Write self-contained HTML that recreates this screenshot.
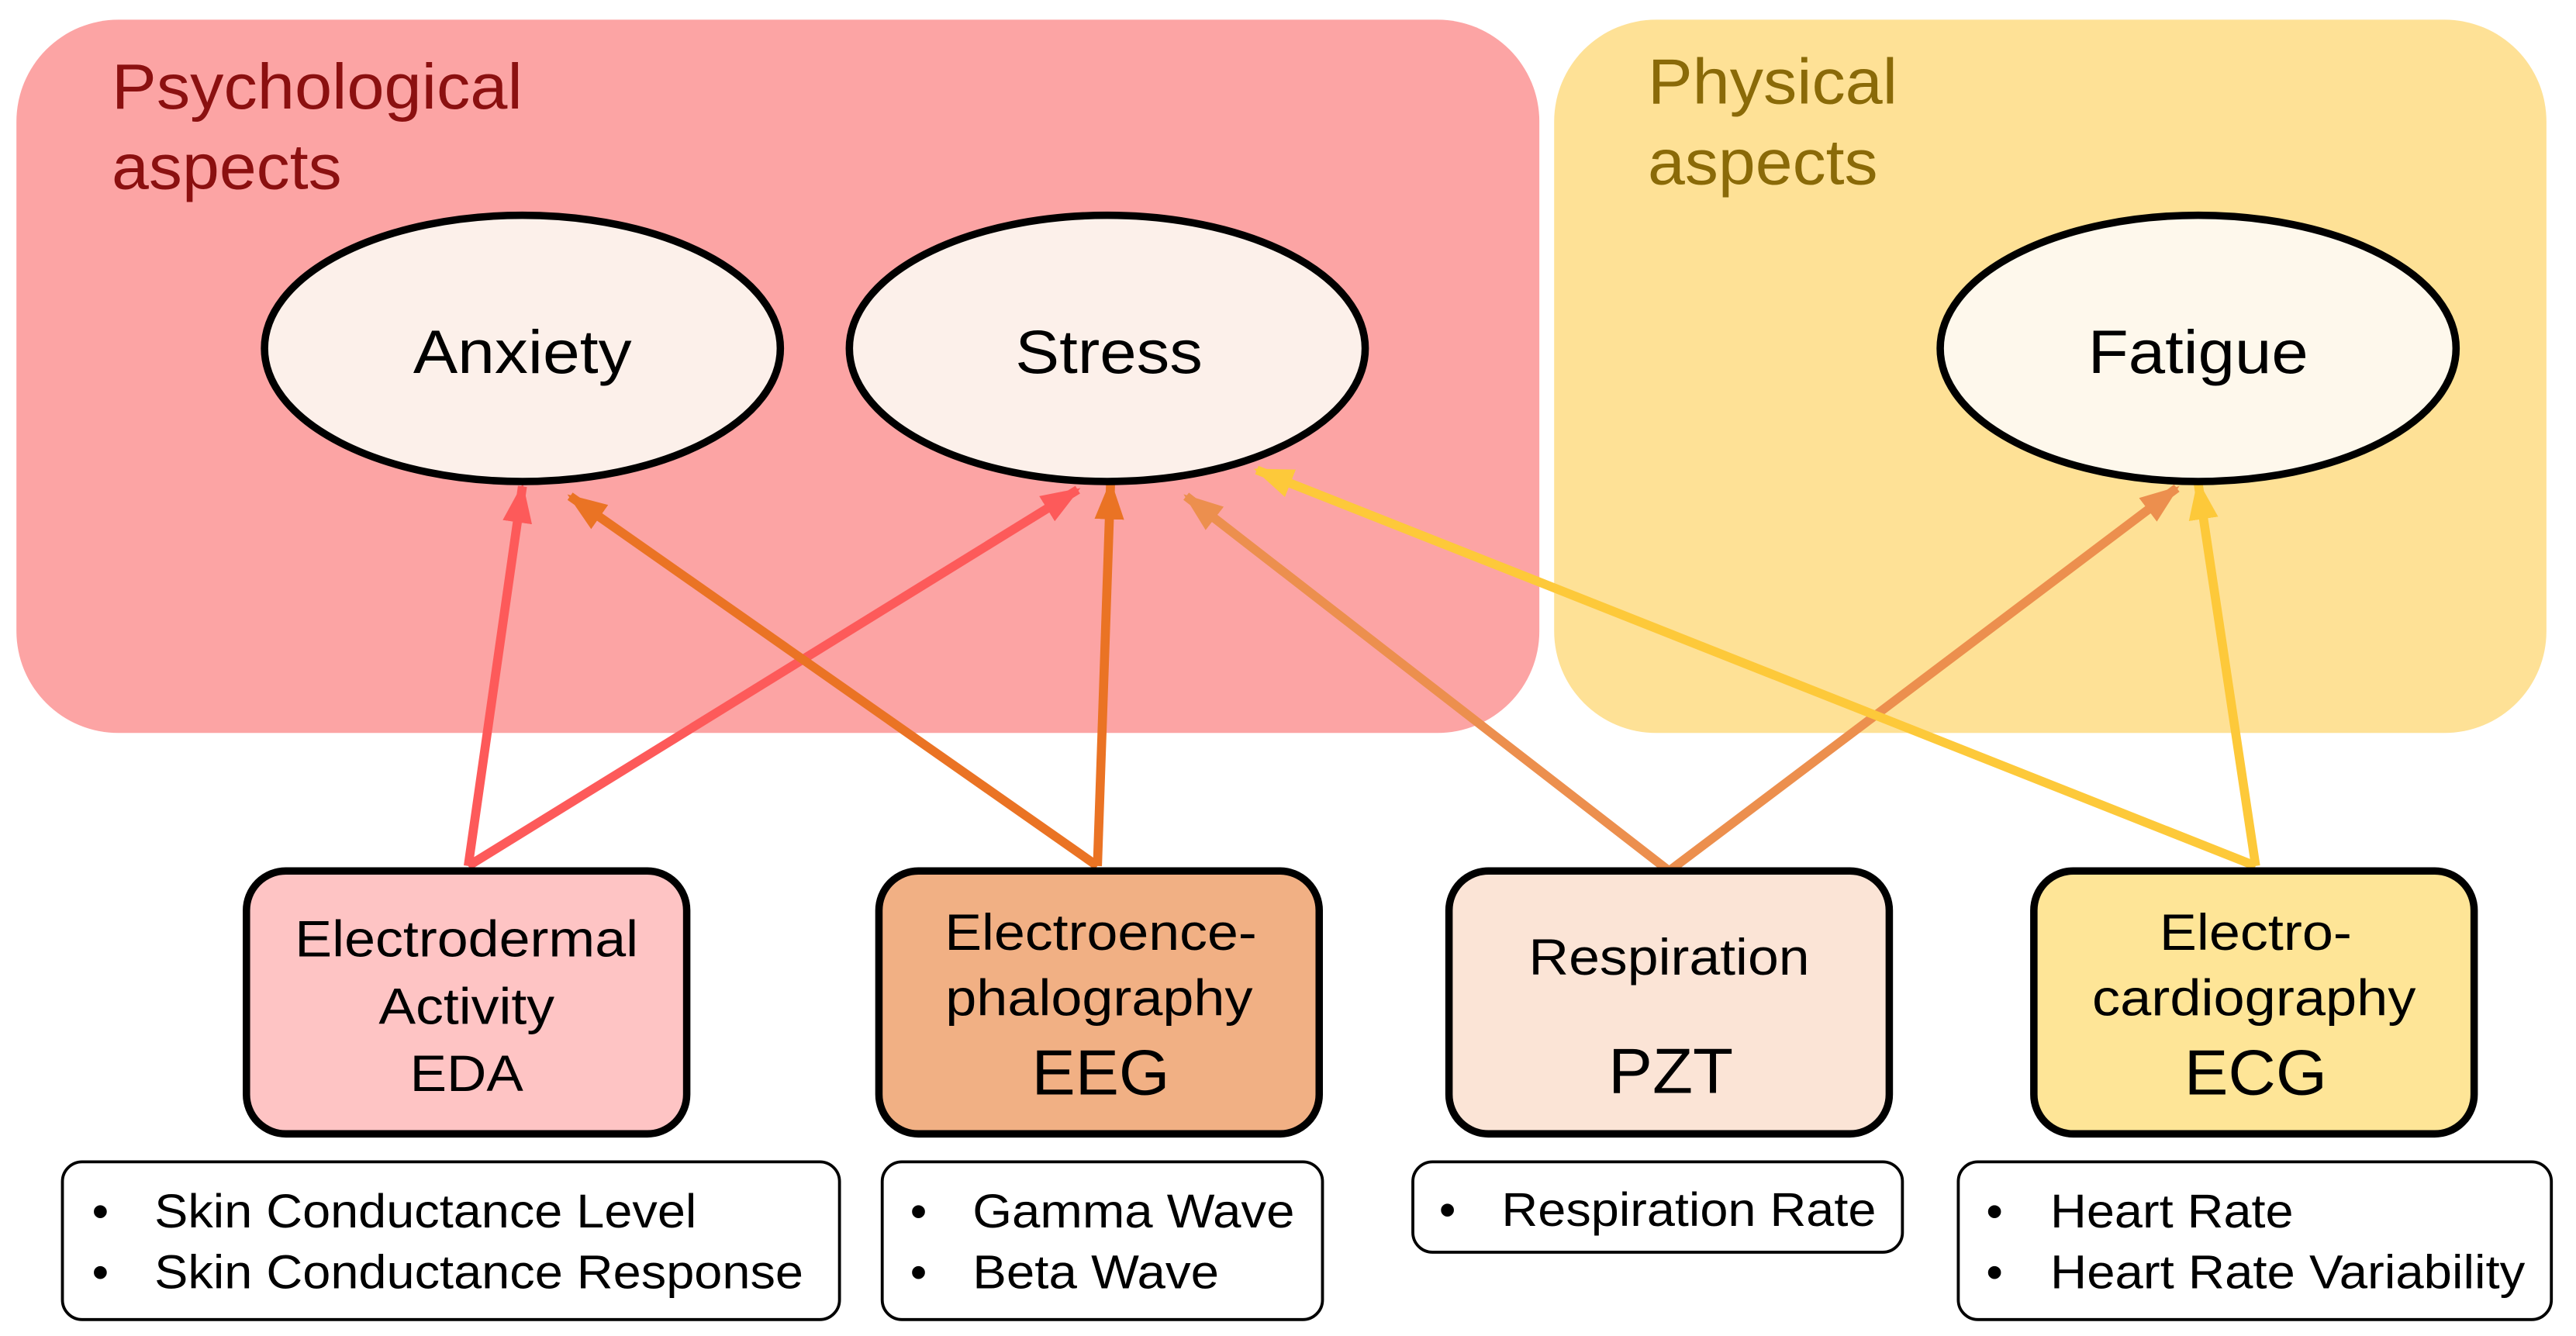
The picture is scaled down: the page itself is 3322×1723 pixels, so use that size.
<!DOCTYPE html>
<html><head><meta charset="utf-8"><style>
html,body{margin:0;padding:0;background:#fff;}
svg{display:block;}
text{font-family:"Liberation Sans",Arial,sans-serif;}
</style></head><body>
<svg width="3322" height="1723" viewBox="0 0 1568 813" preserveAspectRatio="none" xmlns="http://www.w3.org/2000/svg">
<defs>
<marker id="mr" markerUnits="userSpaceOnUse" markerWidth="24" markerHeight="18" refX="22" refY="9" orient="auto"><path d="M0,0 L24,9 L0,18 z" fill="#fd5a5a"/></marker>
<marker id="mo" markerUnits="userSpaceOnUse" markerWidth="24" markerHeight="18" refX="22" refY="9" orient="auto"><path d="M0,0 L24,9 L0,18 z" fill="#ea7324"/></marker>
<marker id="mp" markerUnits="userSpaceOnUse" markerWidth="24" markerHeight="18" refX="22" refY="9" orient="auto"><path d="M0,0 L24,9 L0,18 z" fill="#ec8f4e"/></marker>
<marker id="my" markerUnits="userSpaceOnUse" markerWidth="24" markerHeight="18" refX="22" refY="9" orient="auto"><path d="M0,0 L24,9 L0,18 z" fill="#fdc93a"/></marker>
</defs>
<rect x="10" y="12" width="927" height="434" rx="62" fill="#fca4a4"/>
<rect x="946" y="12" width="604" height="434" rx="62" fill="#fee196"/>
<g font-size="39" lengthAdjust="spacingAndGlyphs">
<text x="68" y="66" fill="#8b1010" textLength="250" lengthAdjust="spacingAndGlyphs">Psychological</text>
<text x="68" y="115" fill="#8b1010" textLength="140" lengthAdjust="spacingAndGlyphs">aspects</text>
<text x="1003" y="63" fill="#8a6a08" textLength="152" lengthAdjust="spacingAndGlyphs">Physical</text>
<text x="1003" y="112" fill="#8a6a08" textLength="140" lengthAdjust="spacingAndGlyphs">aspects</text>
</g>

<g stroke-width="5.5" fill="none">
<line x1="285" y1="527" x2="318" y2="296" stroke="#fd5a5a" marker-end="url(#mr)"/>
<line x1="285" y1="527" x2="656" y2="298" stroke="#fd5a5a" marker-end="url(#mr)"/>
<line x1="668" y1="527" x2="347" y2="302" stroke="#ea7324" marker-end="url(#mo)"/>
<line x1="668" y1="527" x2="676" y2="294" stroke="#ea7324" marker-end="url(#mo)"/>
<line x1="1016" y1="530" x2="722" y2="302" stroke="#ec8f4e" marker-end="url(#mp)"/>
<line x1="1016" y1="530" x2="1325" y2="297" stroke="#ec8f4e" marker-end="url(#mp)"/>
<line x1="1373" y1="527" x2="765" y2="286" stroke="#fdc93a" marker-end="url(#my)"/>
<line x1="1373" y1="527" x2="1338" y2="294" stroke="#fdc93a" marker-end="url(#my)"/>
</g>

<g stroke="#000" stroke-width="4.5">
<ellipse cx="318" cy="212" rx="157" ry="81" fill="#fcf0ea"/>
<ellipse cx="674" cy="212" rx="157" ry="81" fill="#fcf0ea"/>
<ellipse cx="1338" cy="212" rx="157" ry="81" fill="#fef8ec"/>
</g>
<g font-size="37" text-anchor="middle" fill="#000">
<text x="318" y="227" textLength="133" lengthAdjust="spacingAndGlyphs">Anxiety</text>
<text x="675" y="227" textLength="114" lengthAdjust="spacingAndGlyphs">Stress</text>
<text x="1338" y="227" textLength="134" lengthAdjust="spacingAndGlyphs">Fatigue</text>
</g>

<g stroke="#000" stroke-width="4.5">
<rect x="150" y="530" width="268" height="160" rx="24" fill="#fec4c4"/>
<rect x="535" y="530" width="268" height="160" rx="24" fill="#f1b084"/>
<rect x="882" y="530" width="268" height="160" rx="24" fill="#fbe4d6"/>
<rect x="1238" y="530" width="268" height="160" rx="24" fill="#fee597"/>
</g>
<g text-anchor="middle" fill="#000">
<text x="284" y="582" font-size="31" textLength="209" lengthAdjust="spacingAndGlyphs">Electrodermal</text>
<text x="284" y="623" font-size="31" textLength="107" lengthAdjust="spacingAndGlyphs">Activity</text>
<text x="284" y="664" font-size="31" textLength="69" lengthAdjust="spacingAndGlyphs">EDA</text>
<text x="670" y="578" font-size="31" textLength="190" lengthAdjust="spacingAndGlyphs">Electroence-</text>
<text x="669" y="618" font-size="31" textLength="187" lengthAdjust="spacingAndGlyphs">phalography</text>
<text x="670" y="666" font-size="39" textLength="84" lengthAdjust="spacingAndGlyphs">EEG</text>
<text x="1016" y="593" font-size="31" textLength="171" lengthAdjust="spacingAndGlyphs">Respiration</text>
<text x="1017" y="665" font-size="39" textLength="76" lengthAdjust="spacingAndGlyphs">PZT</text>
<text x="1373" y="578" font-size="31" textLength="117" lengthAdjust="spacingAndGlyphs">Electro-</text>
<text x="1372" y="618" font-size="31" textLength="197" lengthAdjust="spacingAndGlyphs">cardiography</text>
<text x="1373" y="666" font-size="39" textLength="87" lengthAdjust="spacingAndGlyphs">ECG</text>
</g>

<g stroke="#000" stroke-width="1.8" fill="#fff">
<rect x="38" y="707" width="473" height="96" rx="12"/>
<rect x="537" y="707" width="268" height="96" rx="12"/>
<rect x="860" y="707" width="298" height="55" rx="12"/>
<rect x="1192" y="707" width="361" height="96" rx="12"/>
</g>
<g font-size="29" fill="#000">
<text x="56" y="747">•</text><text x="94" y="747" textLength="330" lengthAdjust="spacingAndGlyphs">Skin Conductance Level</text>
<text x="56" y="784">•</text><text x="94" y="784" textLength="395" lengthAdjust="spacingAndGlyphs">Skin Conductance Response</text>
<text x="554" y="747">•</text><text x="592" y="747" textLength="196" lengthAdjust="spacingAndGlyphs">Gamma Wave</text>
<text x="554" y="784">•</text><text x="592" y="784" textLength="150" lengthAdjust="spacingAndGlyphs">Beta Wave</text>
<text x="876" y="746">•</text><text x="914" y="746" textLength="228" lengthAdjust="spacingAndGlyphs">Respiration Rate</text>
<text x="1209" y="747">•</text><text x="1248" y="747" textLength="148" lengthAdjust="spacingAndGlyphs">Heart Rate</text>
<text x="1209" y="784">•</text><text x="1248" y="784" textLength="289" lengthAdjust="spacingAndGlyphs">Heart Rate Variability</text>
</g>
</svg>
</body></html>
